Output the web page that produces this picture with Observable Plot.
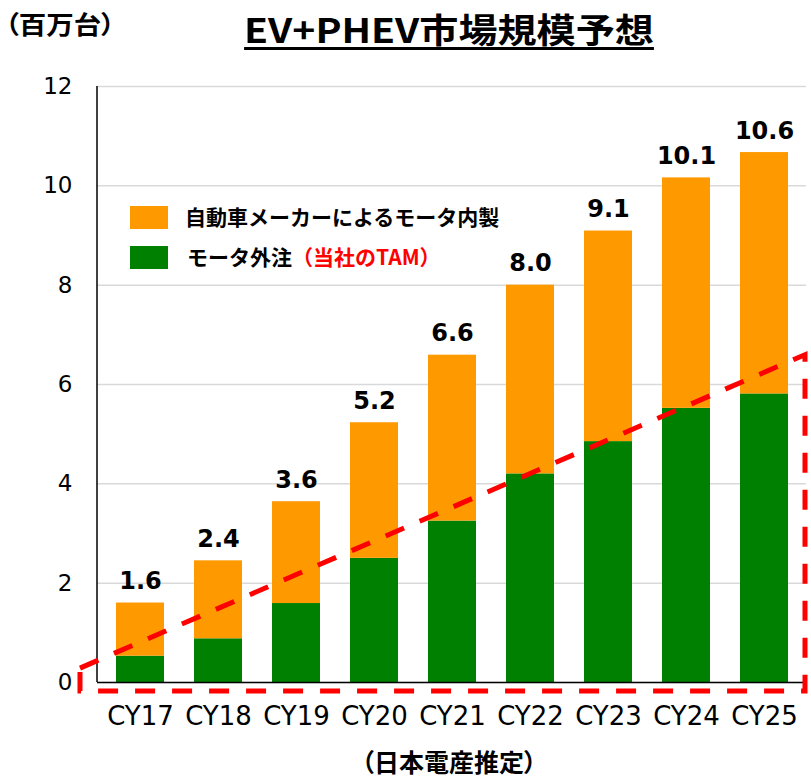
<!DOCTYPE html>
<html><head><meta charset="utf-8">
<script src="https://cdn.jsdelivr.net/npm/d3@7"></script>
<script src="https://cdn.jsdelivr.net/npm/@observablehq/plot@0.6"></script>
<style>
body{margin:0;background:#fff;}
#wrap{position:relative;width:811px;height:781px;overflow:hidden;background:#fff;font-family:"Noto Sans CJK JP",sans-serif;}
#unit{position:absolute;left:5px;top:8px;font-weight:bold;font-size:25px;line-height:30px;font-feature-settings:"palt";white-space:nowrap;transform-origin:left top;transform:scaleX(1.1);}
#title{position:absolute;left:449px;top:4px;font-weight:bold;font-size:34px;white-space:nowrap;transform:translateX(-50%) scaleX(1.15);text-decoration:underline;text-decoration-thickness:3px;text-underline-offset:4px;}
#chart{position:absolute;left:0;top:60px;}
.lg{position:absolute;font-weight:bold;font-size:21px;white-space:nowrap;line-height:23px;}
.sw{position:absolute;width:38px;height:23px;}
#caption{position:absolute;left:449px;top:745px;transform:translateX(-50%);font-weight:bold;font-size:25px;line-height:32px;font-feature-settings:"palt";white-space:nowrap;}
</style>
</head><body>
<div id="wrap">
  <div id="unit">（百万台）</div>
  <div id="title">EV+PHEV市場規模予想</div>
  <div id="chart"></div>
  <div class="sw" style="left:130px;top:206px;background:#FF9900"></div>
  <div class="lg" id="lg1" style="left:185px;top:205px;"></div>
  <div class="sw" style="left:130px;top:246px;background:#008000"></div>
  <div class="lg" id="lg2" style="left:187px;top:245px;"></div>
  <div id="caption">（日本電産推定）</div>
</div>
<script>
// ---- data ----
const years = ["CY17","CY18","CY19","CY20","CY21","CY22","CY23","CY24","CY25"];
const outsourced = [0.53, 0.88, 1.59, 2.50, 3.25, 4.20, 4.85, 5.52, 5.81];   // モータ外注（当社のTAM）
const inhouse    = [1.07, 1.57, 2.05, 2.73, 3.34, 3.80, 4.24, 4.64, 4.86];   // 自動車メーカーによるモータ内製
const totalLabels = ["1.6","2.4","3.6","5.2","6.6","8.0","9.1","10.1","10.6"];
const seriesNames = ["モータ外注", "自動車メーカーによるモータ内製"];
const yTicks = [0, 2, 4, 6, 8, 10, 12];
const tamLine = [0.28, 6.59];   // dashed TAM outline: left and right heights
const tamBase = -0.18;          // dashed TAM outline: baseline

// legend text
document.getElementById("lg1").textContent = seriesNames[1];
const lg2 = document.getElementById("lg2");
lg2.textContent = seriesNames[0];
const red = document.createElement("span");
red.style.color = "#FF0000";
red.textContent = "（当社のTAM）";
lg2.appendChild(red);

const table = years.flatMap((yr, i) => [
  {year: yr, part: seriesNames[0], v: outsourced[i]},
  {year: yr, part: seriesNames[1], v: inhouse[i]}
]);
const totals = years.map((yr, i) => ({year: yr, total: outsourced[i] + inhouse[i], label: totalLabels[i]}));

function tamMark(index, scales, values, dims) {
  const y = scales.y;
  const xL = dims.marginLeft - 17;
  const xR = dims.width - dims.marginRight - 1;
  const pts = [[xL, y(tamLine[0])], [xR, y(tamLine[1])], [xR, y(tamBase)], [xL, y(tamBase)]];
  const g = d3.create("svg:g");
  g.append("path")
    .attr("d", "M" + pts.map(p => p.join(",")).join("L") + "Z")
    .attr("fill", "none")
    .attr("stroke", "#FF0000")
    .attr("stroke-width", 5)
    .attr("stroke-dasharray", "20,17");
  return g.node();
}

function leftLine(index, scales, values, dims) {
  const g = d3.create("svg:g");
  g.append("line")
    .attr("x1", dims.marginLeft).attr("x2", dims.marginLeft)
    .attr("y1", scales.y(12)).attr("y2", scales.y(0))
    .attr("stroke", "#000").attr("stroke-width", 1.5);
  return g.node();
}

const plot = Plot.plot({
  width: 811,
  height: 680,
  marginLeft: 97,
  marginRight: 5,
  marginTop: 26,
  marginBottom: 58,
  style: {fontFamily: "'DejaVu Sans','Noto Sans CJK JP',sans-serif", background: "#fff", overflow: "visible"},
  x: {domain: years, paddingInner: 0.39, paddingOuter: 0.195, label: null},
  y: {domain: [0, 12], label: null},
  color: {domain: seriesNames, range: ["#008000", "#FF9900"]},
  marks: [
    Plot.gridY(yTicks, {stroke: "#D9D9D9", strokeOpacity: 1, strokeWidth: 1.5}),
    Plot.barY(table, {x: "year", y: "v", fill: "part"}),
    Plot.ruleY([0], {stroke: "#000", strokeWidth: 1.5}),
    leftLine,
    Plot.text(totals, {x: "year", y: "total", text: "label", dy: -14, lineAnchor: "bottom", fontWeight: "bold", fontSize: 24, fill: "#000"}),
    Plot.axisY(yTicks, {tickSize: 0, tickPadding: 25, fontSize: 23, fill: "#000", tickFormat: d3.format("d"), label: null}),
    Plot.axisX({tickSize: 0, tickPadding: 24, fontSize: 26, fill: "#000", label: null}),
    tamMark
  ]
});
document.getElementById("chart").appendChild(plot);
</script>
</body></html>
